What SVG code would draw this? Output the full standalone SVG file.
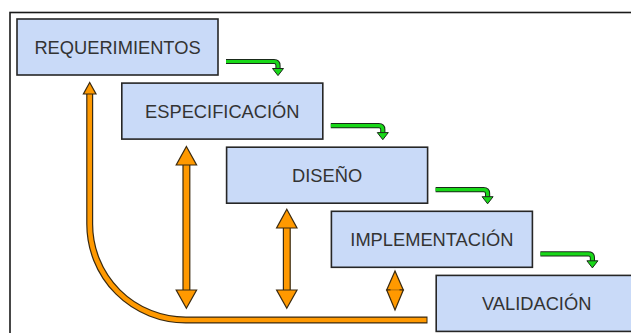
<svg xmlns="http://www.w3.org/2000/svg" width="631" height="333" viewBox="0 0 631 333">
<style>
.box{fill:#c9daf8;stroke:#262626;stroke-width:1.6}
.lbl{font-family:"Liberation Sans",Arial,sans-serif;font-size:18.3px;fill:#333;text-anchor:middle}
.gout{fill:none;stroke:#1a2a1a;stroke-width:5.2}
.gin{fill:none;stroke:#18d818;stroke-width:3.2}
.ghead{fill:#18d818;stroke:#1a2a1a;stroke-width:1}
.oout{fill:none;stroke:#3a2a10;stroke-width:7}
.oin{fill:none;stroke:#ff9900;stroke-width:4.6}
.ohead{fill:#ff9900;stroke:#3a2a10;stroke-width:1.2;stroke-linejoin:miter}
</style>
<rect x="10" y="12.5" width="700" height="400" fill="none" stroke="#1a1a1a" stroke-width="1.6"/>
<g id="connectors">
  <!-- green flow arrows -->
  <g id="g1">
    <path class="gout" d="M226 61.5 H274 Q278 61.5 278 65.5 V69"/>
    <path class="gin" d="M226 61.5 H274 Q278 61.5 278 65.5 V69"/>
    <polygon class="ghead" points="272.5,68.5 283.5,68.5 278,75.6"/>
  </g>
  <g id="g2">
    <path class="gout" d="M330.8 125.6 H378.8 Q382.8 125.6 382.8 129.6 V133"/>
    <path class="gin" d="M330.8 125.6 H378.8 Q382.8 125.6 382.8 129.6 V133"/>
    <polygon class="ghead" points="377.3,132.6 388.3,132.6 382.8,139.7"/>
  </g>
  <g id="g3">
    <path class="gout" d="M435.6 189.7 H483.6 Q487.6 189.7 487.6 193.7 V197"/>
    <path class="gin" d="M435.6 189.7 H483.6 Q487.6 189.7 487.6 193.7 V197"/>
    <polygon class="ghead" points="482.1,196.7 493.1,196.7 487.6,203.8"/>
  </g>
  <g id="g4">
    <path class="gout" d="M540.4 253.8 H588.4 Q592.4 253.8 592.4 257.8 V261"/>
    <path class="gin" d="M540.4 253.8 H588.4 Q592.4 253.8 592.4 257.8 V261"/>
    <polygon class="ghead" points="586.9,260.8 597.9,260.8 592.4,267.9"/>
  </g>
  <!-- orange feedback arrow -->
  <g id="feedback">
    <path class="oout" d="M89.7 93 V224 A96 96 0 0 0 185.7 320 H427.5"/>
    <path class="oin" d="M89.7 93.5 V224 A96 96 0 0 0 185.7 320 H426.5"/>
    <polygon class="ohead" points="89.7,82.5 96,94 83.4,94"/>
  </g>
  <!-- double arrows -->
  <g id="d1">
    <rect x="183" y="163" width="6.8" height="128" fill="#ff9900" stroke="#3a2a10" stroke-width="1.2"/>
    <polygon class="ohead" points="186.4,146.5 196.6,165 176.2,165"/>
    <polygon class="ohead" points="186.4,308.3 196.6,290 176.2,290"/>
  </g>
  <g id="d2">
    <rect x="283.4" y="226" width="6.8" height="65" fill="#ff9900" stroke="#3a2a10" stroke-width="1.2"/>
    <polygon class="ohead" points="286.8,209.3 297,228 276.6,228"/>
    <polygon class="ohead" points="286.8,308.3 297,290 276.6,290"/>
  </g>
  <g id="d3">
    <polygon class="ohead" points="395,271 403.3,290 386.7,290"/>
    <polygon class="ohead" points="395,310 403.3,290 386.7,290"/>
    <line x1="390.5" y1="290" x2="399.5" y2="290" stroke="#ff9900" stroke-width="1.4"/>
  </g>
</g>
<g id="n1"><rect class="box" x="17" y="19" width="201" height="56"/><text class="lbl" x="117.5" y="54">REQUERIMIENTOS</text></g>
<g id="n2"><rect class="box" x="121.8" y="83.1" width="201" height="56"/><text class="lbl" x="222.3" y="118">ESPECIFICACIÓN</text></g>
<g id="n3"><rect class="box" x="226.6" y="147.2" width="201" height="56"/><text class="lbl" x="327.1" y="182">DISEÑO</text></g>
<g id="n4"><rect class="box" x="331.4" y="211.3" width="201" height="56"/><text class="lbl" x="431.9" y="246">IMPLEMENTACIÓN</text></g>
<g id="n5"><rect class="box" x="436.2" y="275.4" width="201" height="56"/><text class="lbl" x="536.7" y="310">VALIDACIÓN</text></g>
</svg>
